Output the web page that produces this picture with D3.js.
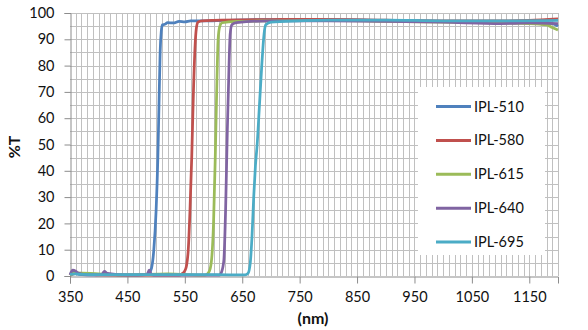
<!DOCTYPE html>
<html><head><meta charset="utf-8">
<script src="https://cdn.jsdelivr.net/npm/d3@7/dist/d3.min.js"></script>
<style>body{margin:0;background:#fff;} text{font-family:Lato,"Open Sans",sans-serif;}</style>
</head><body><svg id="c" width="588" height="330"></svg>
<script>
const seriesNames = ["IPL-510","IPL-580","IPL-615","IPL-640","IPL-695"];
const seriesColors = ["#4F81BD","#C0504D","#9BBB59","#8064A2","#4BACC6"];
const xTicks = [350,450,550,650,750,850,950,1050,1150];
const yTicks = [0,10,20,30,40,50,60,70,80,90,100];

const wl510 = [350,355,360,370,400,450,480,488,492,496,500,503,505,507,509,511,515,520,530,540,550,560,580,620,700,800,900,1000,1100,1150,1190,1200];
const t510  = [0.5,1.5,1,0.5,0.4,0.4,0.5,1.2,3,10,25,45,65,85,93,95.5,95.7,96.3,96.2,96.8,96.6,97,97,97.2,97.5,97.5,97.1,96.8,96.5,96.3,96,95];

const wl580 = [350,360,400,450,500,540,545,550,553,556,559,562,565,568,570,573,580,600,700,800,900,1000,1100,1150,1200];
const t580  = [0.3,1,0.4,0.3,0.3,0.3,0.8,2,4,10,25,45,70,88,94,96.5,97,97.2,97.5,97.6,97.3,97,97,97.2,97.8];

const wl615 = [350,360,400,450,520,585,592,596,600,603,606,608,611,615,640,700,800,900,1000,1100,1150,1180,1190,1200];
const t615  = [0.4,1.2,0.8,0.4,0.8,0.3,1.5,5,20,45,75,90,95,96.3,96.8,97,97.2,96.8,96.5,96.2,96,95.5,94.5,93.5];

const wl640 = [350,355,360,365,380,405,410,415,450,484,488,492,500,610,614,618,621,624,627,629,632,640,700,800,900,1000,1100,1150,1200];
const t640  = [0.5,2.2,1.8,1,0.4,0.5,1.8,1,0.3,0.5,2.2,0.5,0.3,0.3,1.5,6,25,55,80,92,95.5,96.3,97,97,96.8,96.5,96,96.2,96];

const wl695 = [350,360,370,400,450,500,600,655,660,664,667,670,673,676,680,684,688,691,700,750,800,900,1000,1100,1200];
const t695  = [0.6,0.8,0.6,0.5,0.5,0.5,0.5,0.4,1,5,15,30,42,50,65,80,92,95.5,96.5,97,97.3,97.3,97,97,97.2];

const allWl = [wl510,wl580,wl615,wl640,wl695];
const allT = [t510,t580,t615,t640,t695];

const svg = d3.select("#c");
const L=70, R=558, T=13, B=276;
const x = d3.scaleLinear().domain([350,1200]).range([L,R]);
const y = d3.scaleLinear().domain([0,100]).range([B,T]);

// grid
const g = svg.append("g");
g.selectAll(".vg").data(d3.range(360,1201,10)).join("line")
  .attr("x1",d=>Math.round(x(d))+0.5).attr("x2",d=>Math.round(x(d))+0.5)
  .attr("y1",T).attr("y2",B).attr("stroke","#c0c0c0").attr("stroke-width",1);
g.selectAll(".hg").data(d3.range(5,101,5)).join("line")
  .attr("y1",d=>Math.round(y(d))+0.5).attr("y2",d=>Math.round(y(d))+0.5)
  .attr("x1",L).attr("x2",R).attr("stroke","#c0c0c0").attr("stroke-width",1);

// axes
const xAxis = svg.append("g").attr("transform",`translate(0,${Math.round(B)+0.5})`)
  .call(d3.axisBottom(x).tickValues(xTicks).tickSize(7).tickPadding(8).tickFormat(d3.format("d")));
const yAxis = svg.append("g").attr("transform",`translate(${L+0.5},0)`)
  .call(d3.axisLeft(y).tickValues(yTicks).tickSize(6).tickPadding(10));
[xAxis,yAxis].forEach(a=>{
  a.select(".domain").attr("stroke","#8c8c8c");
  a.selectAll(".tick line").attr("stroke","#8c8c8c");
  a.selectAll(".tick text").attr("font-size",14.5).attr("fill","#111").style("font-family","Lato, 'Open Sans', sans-serif");
});

// lines
const line = d3.line().x(d=>x(d[0])).y(d=>y(d[1])).curve(d3.curveMonotoneX);
allWl.forEach((wl,i)=>{
  const pts = wl.map((w,j)=>[w,allT[i][j]]);
  svg.append("path").datum(pts).attr("d",line).attr("fill","none")
    .attr("stroke",seriesColors[i]).attr("stroke-width",2.75).attr("stroke-linejoin","round");
});

// legend
const lg = svg.append("g");
lg.append("rect").attr("x",418).attr("y",87).attr("width",127).attr("height",168).attr("fill","#fff");
const ly = d3.scaleLinear().domain([0,4]).range([106.5,242]);
seriesNames.forEach((n,i)=>{
  lg.append("line").attr("x1",436).attr("x2",471).attr("y1",ly(i)).attr("y2",ly(i))
    .attr("stroke",seriesColors[i]).attr("stroke-width",3);
  lg.append("text").attr("x",474).attr("y",ly(i)+5).attr("font-size",14.5).attr("fill","#111").text(n);
});

// axis titles
svg.append("text").attr("x",313).attr("y",324).attr("text-anchor","middle")
  .attr("font-size",16).attr("font-weight","bold").attr("fill","#111").text("(nm)");
svg.append("text").attr("transform","translate(20,147) rotate(-90)").attr("text-anchor","middle")
  .attr("font-size",16).attr("font-weight","bold").attr("fill","#111").text("%T");
</script></body></html>
